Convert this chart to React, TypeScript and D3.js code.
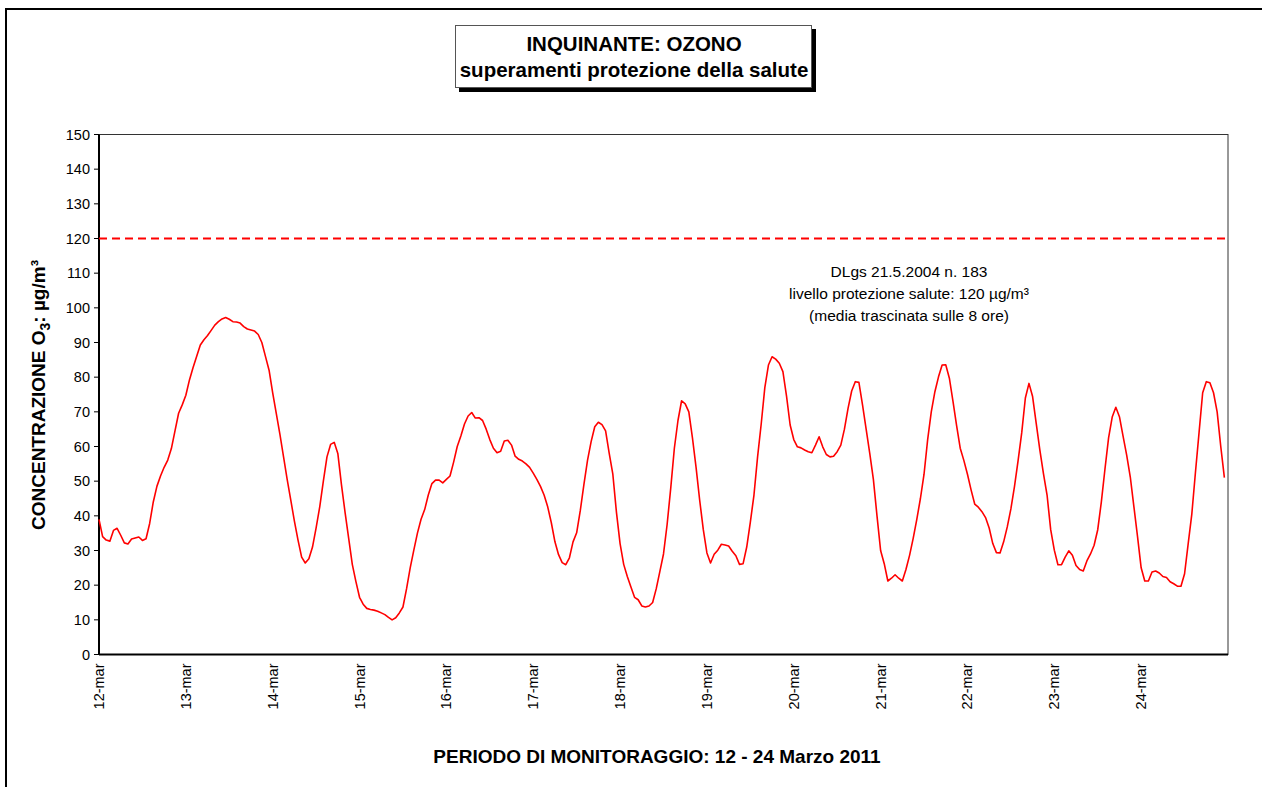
import React from "react";
import * as d3 from "d3";

const dayLabels = ["12-mar","13-mar","14-mar","15-mar","16-mar","17-mar","18-mar","19-mar","20-mar","21-mar","22-mar","23-mar","24-mar"];
const yTicks = [0,10,20,30,40,50,60,70,80,90,100,110,120,130,140,150];
const limitValue = 120;

// hourly ozone 8h moving average, 12-mar 00:00 .. 24-mar 23:00
const ozone12 = [39,34,33,32.7,35.8,36.4,34.4,32.2,31.9,33.3,33.6,33.9,32.9,33.4,37.8,44,48.5,51.5,54,56.1,59.4,64.5,69.6,72];
const ozone13 = [74.8,79.2,82.8,86,89.3,90.8,92,93.5,95,96,96.8,97.2,96.7,96,95.9,95.6,94.6,93.9,93.6,93.3,92.3,90,86,82];
const ozone14 = [75.5,69.5,63.5,57,50.5,44.5,38.5,33,28.1,26.4,27.6,31,36.5,42.6,50,57,60.6,61.2,58,49,41,33.5,26,21];
const ozone15 = [16.5,14.5,13.3,13,12.8,12.5,12,11.5,10.7,10,10.6,12,13.7,19,25,30.1,35,39,41.8,46,49.3,50.3,50.3,49.5];
const ozone16 = [50.5,51.5,55.5,60,63,66.5,68.8,69.8,68.2,68.3,67.5,65,62,59.5,58.2,58.6,61.6,61.8,60.4,57.2,56.3,55.8,55,54];
const ozone17 = [52.3,50.5,48.5,46,42.6,38,32.5,28.8,26.5,25.9,27.9,32.5,35.1,41.5,49,56,61.4,65.7,67,66.3,64.5,58,52,41];
const ozone18 = [32,26,22.5,19.5,16.5,15.8,14,13.7,14,15,19,24,29,37.5,48,59.5,67.5,73.2,72.3,70,62.5,54,44.5,36];
const ozone19 = [29.3,26.4,28.9,30.1,31.8,31.6,31.3,29.8,28.5,26,26.2,31,38.2,46,57,66.5,77,83.5,85.9,85.2,84,81.6,74.5,66.2];
const ozone20 = [62,59.9,59.6,59,58.5,58.2,60.4,62.8,59.9,57.7,57,57.2,58.5,60.4,65,71,76,78.7,78.5,72,65,58,50.5,40];
const ozone21 = [30,26.2,21.2,22,23,22,21.2,24.5,28.6,33.5,39,45,52,62,70,75.8,80.1,83.5,83.6,79.7,73,66,59.5,56];
const ozone22 = [52,47.5,43.4,42.5,41.2,39.5,36.5,32,29.4,29.3,32.5,36.8,42,48.5,56,64,74,78.2,74.4,66.7,59,52.2,46,36];
const ozone23 = [30.1,25.9,25.9,28.1,29.9,28.6,25.7,24.5,24.1,27,29,31.5,36,44,53.5,62.5,68.5,71.3,68.6,63,57.5,51.2,42.6,34];
const ozone24 = [25,21.2,21.2,23.8,24.1,23.5,22.5,22.2,21,20.4,19.7,19.7,23.3,32,40.5,52.5,64,75.5,78.7,78.4,75.5,70,60,51];

const ozone = [
  ...ozone12, ...ozone13, ...ozone14, ...ozone15, ...ozone16, ...ozone17, ...ozone18,
  ...ozone19, ...ozone20, ...ozone21, ...ozone22, ...ozone23, ...ozone24,
];

const FONT = "'Liberation Sans', Arial, Helvetica, sans-serif";

export default function App() {
  const W = 1262, H = 787;
  const left = 99, right = 1228, top = 134.5, bottom = 654.5;
  const x = d3.scaleLinear().domain([0, dayLabels.length * 24]).range([left, right]);
  const y = d3.scaleLinear().domain([0, 150]).range([bottom, top]);
  const line = d3.line<number>().x((_, i) => x(i)).y((d) => y(d));

  return (
    <svg width={W} height={H} style={{ position: "absolute", left: 0, top: 0, background: "#fff" }}>
      <rect x={0} y={0} width={W} height={H} fill="#fff" />
      {/* outer frame */}
      <rect x={6} y={9} width={W + 10} height={H + 10} fill="none" stroke="#000" strokeWidth={2} />

      {/* title box */}
      <rect x={459} y={29} width={357} height={63} fill="#000" />
      <rect x={455.5} y={25.5} width={356} height={62} fill="#fff" stroke="#555" strokeWidth={1} />
      <text x={634} y={51} textAnchor="middle" fontFamily={FONT} fontWeight="bold" fontSize={20.5}>INQUINANTE: OZONO</text>
      <text x={634} y={77} textAnchor="middle" fontFamily={FONT} fontWeight="bold" fontSize={20.5}>superamenti protezione della salute</text>

      {/* plot area border */}
      <rect x={left} y={top} width={right - left} height={bottom - top} fill="none" stroke="#333" strokeWidth={1} />

      {/* y axis */}
      <line x1={left} x2={left} y1={top} y2={bottom} stroke="#000" strokeWidth={2} />
      {yTicks.map((t) => (
        <g key={t}>
          <line x1={left - 5} x2={left} y1={y(t)} y2={y(t)} stroke="#000" strokeWidth={1} />
          <text x={left - 9} y={y(t)} dy="0.35em" textAnchor="end" fontFamily={FONT} fontSize={14.5}>{t}</text>
        </g>
      ))}

      {/* x axis */}
      <line x1={left} x2={right} y1={bottom} y2={bottom} stroke="#000" strokeWidth={2} />
      {dayLabels.map((d, i) => (
        <text key={d} transform={`translate(${x(i * 24) + 5},${bottom + 9}) rotate(-90)`} textAnchor="end"
          fontFamily={FONT} fontSize={14.5}>{d}</text>
      ))}

      {/* limit line */}
      <line x1={left} x2={right} y1={y(limitValue)} y2={y(limitValue)} stroke="#ff0000" strokeWidth={2} strokeDasharray="8,5" />

      {/* series */}
      <path d={line(ozone) || ""} fill="none" stroke="#ff0000" strokeWidth={1.6} strokeLinejoin="round" />

      {/* annotation */}
      <g fontFamily={FONT} fontSize={15.5} textAnchor="middle" fill="#000">
        <text x={909} y={277}>DLgs 21.5.2004 n. 183</text>
        <text x={909} y={299}>livello protezione salute: 120 µg/m³</text>
        <text x={909} y={321}>(media trascinata sulle 8 ore)</text>
      </g>

      {/* axis titles */}
      <text transform={`translate(45,395) rotate(-90)`} textAnchor="middle" fontFamily={FONT} fontWeight="bold" fontSize={19}>
        CONCENTRAZIONE O<tspan fontSize={14} dy={5}>3</tspan><tspan dy={-5}>: µg/m³</tspan>
      </text>
      <text x={657} y={763} textAnchor="middle" fontFamily={FONT} fontWeight="bold" fontSize={19}>
        PERIODO DI MONITORAGGIO: 12 - 24 Marzo 2011
      </text>
    </svg>
  );
}
